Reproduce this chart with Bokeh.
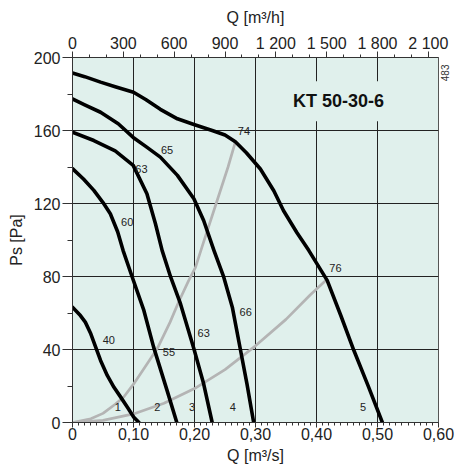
from math import pi
from bokeh.plotting import figure
from bokeh.models import Range1d, LinearAxis, FixedTicker, Label, ColumnDataSource
from bokeh.core.properties import value
from bokeh.embed import file_html
from bokeh.resources import INLINE

# ---------------- data ----------------
Q_TICKS = [0, 0.1, 0.2, 0.3, 0.4, 0.5, 0.6]
Q_LABELS = ["0", "0,10", "0,20", "0,30", "0,40", "0,50", "0,60"]
QH_TICKS = [0, 300, 600, 900, 1200, 1500, 1800, 2100]
QH_LABELS = ["0", "300", "600", "900", "1 200", "1 500", "1 800", "2 100"]
P_TICKS = [0, 40, 80, 120, 160, 200]

# fan curves (speed steps 5..1): Q [m3/s], Ps [Pa]
c5_q = [0, 0.02, 0.046, 0.07, 0.1, 0.12, 0.144, 0.172, 0.199, 0.229, 0.25, 0.267, 0.285, 0.308, 0.33, 0.346, 0.368, 0.3875, 0.4175, 0.44, 0.461, 0.485, 0.508]
c5_p = [191.5, 189.5, 186.5, 184, 181, 177, 171.6, 166.4, 163.3, 160, 157.5, 153.8, 147.8, 138.9, 127, 116, 104, 94.2, 77.9, 58.5, 39.7, 19.8, 0]
c4_q = [0, 0.02, 0.046, 0.075, 0.0995, 0.12, 0.144, 0.172, 0.199, 0.215, 0.232, 0.248, 0.262, 0.275, 0.286, 0.297]
c4_p = [177.3, 174.1, 170, 163.7, 156.2, 151.3, 145.4, 135.4, 122.6, 110.7, 94.2, 79.6, 63.2, 40.4, 21.2, 0]
c3_q = [0, 0.035, 0.07, 0.0995, 0.122, 0.136, 0.147, 0.161, 0.177, 0.199, 0.215, 0.229]
c3_p = [159.1, 154.5, 148.8, 140.9, 125.3, 108.9, 94.2, 79.6, 65.1, 40.4, 21.2, 0]
c2_q = [0, 0.018, 0.035, 0.05, 0.062, 0.074, 0.083, 0.098, 0.117, 0.133, 0.155, 0.171]
c2_p = [139.1, 133.4, 127.2, 120.5, 114.4, 104.5, 94.2, 79.6, 61.4, 41.3, 17.6, 0]
c1_q = [0, 0.013, 0.021, 0.03, 0.038, 0.046, 0.057, 0.068, 0.079, 0.09, 0.1005, 0.109]
c1_p = [63.2, 58.6, 55, 48.6, 41.3, 34, 25.8, 19.3, 13.9, 8.4, 2.9, 0]

# system curves (grey)
sa_q = [0, 0.03, 0.05, 0.07, 0.084, 0.1, 0.12, 0.139, 0.16, 0.174, 0.19, 0.2016, 0.215, 0.237, 0.255, 0.267]
sa_p = [0, 2, 5, 10, 14, 21, 31, 40.5, 55, 66, 77.5, 85, 99, 121.5, 140, 153.8]
sb_q = [0, 0.05, 0.1, 0.15, 0.2, 0.25, 0.3, 0.35, 0.39, 0.4164]
sb_p = [0, 1.2, 4.7, 10.5, 18.6, 29, 42, 56.5, 70, 78.2]

# curve annotations
ann_text = ["74", "65", "63", "60", "40", "55", "63", "66", "76", "5", "1", "2", "3", "4"]
ann_q = [0.281, 0.155, 0.113, 0.0897, 0.0595, 0.158, 0.215, 0.284, 0.431, 0.4765, 0.0743, 0.139, 0.196, 0.263]
ann_p = [160, 149.5, 139, 110, 45, 38.5, 49, 60.5, 84.5, 8.5, 8.5, 8.5, 8.5, 8.5]

TITLE = "KT 50-30-6"
CODE = "483"

# ---------------- styling ----------------
FONT = "Liberation Sans"
BG = "#e0f0ec"
INK = "#222222"

p = figure(width=456, height=470,
           x_range=Range1d(0, 0.6), y_range=Range1d(0, 200),
           output_backend="svg", toolbar_location=None,
           min_border_left=72, min_border_right=18,
           min_border_top=57, min_border_bottom=48)
p.background_fill_color = BG
p.border_fill_color = "white"
p.outline_line_color = "#555555"
p.outline_line_width = 1

p.extra_x_ranges = {"qh": Range1d(0, 2160)}
top = LinearAxis(x_range_name="qh")
p.add_layout(top, "above")

xa = p.below[0]
ya = p.left[0]

xa.ticker = FixedTicker(ticks=Q_TICKS, minor_ticks=[i / 100 for i in range(61)])
xa.major_label_overrides = dict(zip(Q_TICKS, Q_LABELS))
xa.axis_label = "Q [m³/s]"
ya.ticker = FixedTicker(ticks=P_TICKS, minor_ticks=[20, 60, 100, 140, 180])
ya.axis_label = "Ps [Pa]"
top.ticker = FixedTicker(ticks=QH_TICKS, minor_ticks=list(range(0, 2200, 100)))
top.major_label_overrides = dict(zip(QH_TICKS, QH_LABELS))
top.axis_label = "Q [m³/h]"

for ax in (xa, ya, top):
    ax.major_label_text_font = FONT
    ax.major_label_text_font_size = "16px"
    ax.major_label_text_color = INK
    ax.axis_label_text_font = FONT
    ax.axis_label_text_font_size = "16px"
    ax.axis_label_text_font_style = "normal"
    ax.axis_label_text_color = INK
    ax.axis_line_color = "#333333"
    ax.major_tick_line_color = "#333333"
    ax.minor_tick_line_color = "#333333"
    ax.major_tick_in = 0
    ax.minor_tick_in = 0

xa.major_tick_out = 5
xa.minor_tick_out = 3
xa.major_label_standoff = 0
xa.axis_label_standoff = 4
ya.major_tick_out = 10
ya.minor_tick_out = 5
ya.major_label_standoff = 2
ya.axis_label_standoff = 6
top.major_tick_out = 6
top.minor_tick_out = 3
top.major_label_standoff = 0
top.axis_label_standoff = 6

# small chart code in the right margin, reading upwards, near the top
code_axis = LinearAxis(ticker=FixedTicker(ticks=[187], minor_ticks=[]),
                       major_label_overrides={187: CODE},
                       major_label_orientation=pi / 2,
                       major_label_text_font=FONT, major_label_text_font_size="10px",
                       major_label_text_color="#333333", major_label_standoff=7,
                       axis_line_color=None, major_tick_line_color=None,
                       minor_tick_line_color=None, major_tick_out=0, major_tick_in=0)
p.add_layout(code_axis, "right")

p.xgrid.grid_line_color = "#222222"
p.xgrid.grid_line_width = 1
p.ygrid.grid_line_color = "#222222"
p.ygrid.grid_line_width = 1

# system curves
p.line(sa_q, sa_p, line_color="#b4b4b4", line_width=2.7)
p.line(sb_q, sb_p, line_color="#b4b4b4", line_width=2.7)

# fan curves
for q, pr in ((c5_q, c5_p), (c4_q, c4_p), (c3_q, c3_p), (c2_q, c2_p), (c1_q, c1_p)):
    p.line(q, pr, line_color="black", line_width=3.6, line_join="round", line_cap="round")

src = ColumnDataSource(dict(x=ann_q, y=ann_p, t=ann_text))
p.text(x="x", y="y", text="t", source=src, text_font=value(FONT),
       text_font_size="11px", text_color=INK, text_align="center", text_baseline="middle")

p.add_layout(Label(x=0.436, y=176, text=TITLE, text_font=FONT, text_font_size="18px",
                   text_font_style="bold", text_color="#111111", text_align="center",
                   text_baseline="middle", background_fill_color=BG, padding=10))

open("out.html", "w").write(file_html(p, INLINE))
